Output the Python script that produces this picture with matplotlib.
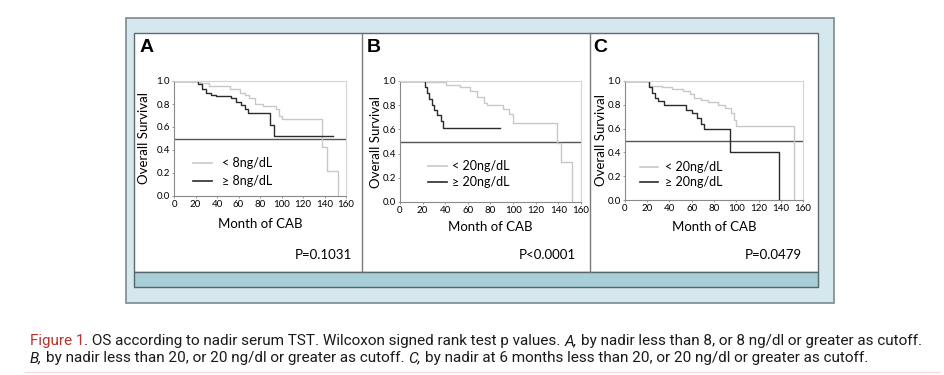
import matplotlib
matplotlib.use('Agg')
import matplotlib.pyplot as plt
from matplotlib.patches import Rectangle

W, H = 945, 375

# ---- data ----
panel_labels = ['A', 'B', 'C']
legend_low = ['< 8ng/dL', '< 20ng/dL', '< 20ng/dL']
legend_high = ['\u2265 8ng/dL', '\u2265 20ng/dL', '\u2265 20ng/dL']
p_values = ['P=0.1031', 'P<0.0001', 'P=0.0479']
x_ticks = [0, 20, 40, 60, 80, 100, 120, 140, 160]
y_ticks = [0.0, 0.2, 0.4, 0.6, 0.8, 1.0]

a_low_t = [0, 24, 33, 52, 61, 66, 70, 75, 83, 95, 98, 100, 138, 142, 153]
a_low_s = [1.0, 0.98, 0.96, 0.93, 0.90, 0.88, 0.85, 0.80, 0.78, 0.76, 0.70, 0.67, 0.43, 0.22, 0.0]
a_high_t = [0, 22, 26, 30, 34, 39, 53, 58, 62, 66, 69, 89, 93, 148]
a_high_s = [1.0, 0.97, 0.93, 0.90, 0.88, 0.87, 0.85, 0.82, 0.79, 0.76, 0.72, 0.62, 0.52, 0.52]

b_low_t = [0, 24, 41, 53, 62, 68, 74, 77, 91, 96, 100, 139, 142, 152]
b_low_s = [1.0, 0.99, 0.97, 0.95, 0.92, 0.87, 0.82, 0.80, 0.77, 0.73, 0.65, 0.49, 0.33, 0.0]
b_high_t = [0, 22, 24, 26, 28, 30, 33, 36, 38, 88]
b_high_s = [1.0, 0.95, 0.90, 0.85, 0.80, 0.76, 0.72, 0.67, 0.61, 0.61]

c_low_t = [0, 22, 33, 42, 52, 58, 62, 68, 75, 84, 90, 95, 98, 100, 152]
c_low_s = [1.0, 0.96, 0.95, 0.93, 0.92, 0.89, 0.86, 0.84, 0.82, 0.80, 0.77, 0.73, 0.67, 0.62, 0.0]
c_high_t = [0, 22, 24, 27, 30, 35, 55, 60, 65, 68, 71, 94, 138]
c_high_s = [1.0, 0.95, 0.90, 0.86, 0.83, 0.80, 0.76, 0.73, 0.69, 0.64, 0.60, 0.40, 0.0]

curves = [(a_low_t, a_low_s, a_high_t, a_high_s),
          (b_low_t, b_low_s, b_high_t, b_high_s),
          (c_low_t, c_low_s, c_high_t, c_high_s)]

# ---- layout in pixels ----
# axes boxes: left, right, top, bottom
ax_box = [(174, 346, 81, 196), (400, 581, 81, 202), (625, 803, 81, 200)]
panel_left = [140, 367, 593]
ylabel_x = [144, 376, 601]
legend_xy = [(193, 212, 222, 163, 181), (428, 447, 452, 166, 182), (640, 658, 665, 167, 182)]
p_right = [352, 576, 802]

LIGHT = '#c8c8c8'
DARK = '#2b2b2b'
FONT = ['Lato', 'DejaVu Sans']

fig = plt.figure(figsize=(W / 100, H / 100), dpi=100)
bg = fig.add_axes([0, 0, 1, 1])
bg.set_xlim(0, W)
bg.set_ylim(H, 0)
bg.axis('off')

bg.add_patch(Rectangle((126, 18), 708, 285, fc='#d5e8ee', ec='#7d8a8f', lw=1.2))
bg.add_patch(Rectangle((134, 33), 684, 239, fc='white', ec='#5f6a6e', lw=1))
bg.add_patch(Rectangle((134, 272), 684, 15, fc='#a8ced7', ec='#56666b', lw=1))
for xd in [362, 590]:
    bg.plot([xd, xd], [33, 272], color='#7a7a7a', lw=1)

for i in range(3):
    l, r, t, b = ax_box[i]
    ax = fig.add_axes([l / W, 1 - b / H, (r - l) / W, (b - t) / H])
    lt, ls, ht, hs = curves[i]
    ax.axhline(0.5, color='#555555', lw=1)
    ax.plot(lt, ls, drawstyle='steps-post', color=LIGHT, lw=1)
    ax.plot(ht, hs, drawstyle='steps-post', color=DARK, lw=1)
    ax.set_xlim(0, 160)
    ax.set_ylim(0, 1.0)
    ax.set_xticks(x_ticks)
    ax.set_yticks(y_ticks)
    ax.set_yticklabels(['%.1f' % v for v in y_ticks])
    for lab in ax.get_xticklabels() + ax.get_yticklabels():
        lab.set_family(FONT)
        lab.set_fontsize(7)
    ax.tick_params(length=1.5, width=0.6, pad=1.5, color='#888888')
    for s in ['top', 'right']:
        ax.spines[s].set_color('#d4d4d4')
    for s in ['left', 'bottom']:
        ax.spines[s].set_color('#8a8a8a')
    ax.patch.set_alpha(0)

    # panel letter, axis labels, p value
    bg.text(panel_left[i], 47, panel_labels[i], fontsize=14, fontweight='bold',
            family='Liberation Sans', va='center', ha='left')
    bg.text(ylabel_x[i], (t + b) / 2, 'Overall Survival', rotation=90, fontsize=9.5,
            family=FONT, va='center', ha='center')
    bg.text((l + r) / 2, 224 if i == 0 else 227, 'Month of CAB', fontsize=9.5,
            family=FONT, va='center', ha='center')
    bg.text(p_right[i], 255, p_values[i], fontsize=9.5, family=FONT,
            va='center', ha='right')

    x0, x1, xt, y0, y1 = legend_xy[i]
    bg.plot([x0, x1], [y0, y0], color=LIGHT, lw=1.2)
    bg.plot([x0, x1], [y1, y1], color=DARK, lw=1.2)
    bg.text(xt, y0, legend_low[i], fontsize=9, family=FONT, va='center')
    bg.text(xt, y1, legend_high[i], fontsize=9, family=FONT, va='center')

# ---- caption with mixed styles ----
CAP_FONT = ['Roboto', 'DejaVu Sans']
CAP_SIZE = 11
renderer = fig.canvas.get_renderer()
space_w = 0.25 * CAP_SIZE * 100 / 72


def put_runs(x, y, runs):
    for txt, style, color in runs:
        if txt.startswith(' '):
            x += space_w
            txt = txt[1:]
        tt = bg.text(x, y, txt, fontsize=CAP_SIZE, family=CAP_FONT, style=style,
                     color=color, va='center', ha='left')
        x += tt.get_window_extent(renderer).width
        if txt.endswith(' '):
            x += space_w


line1 = [('Figure 1', 'normal', '#b8312c'),
         ('. OS according to nadir serum TST. Wilcoxon signed rank test p values.', 'normal', '#1a1a1a'),
         (' A,', 'italic', '#1a1a1a'),
         (' by nadir less than 8, or 8 ng/dl or greater as cutoff.', 'normal', '#1a1a1a')]
line2 = [('B,', 'italic', '#1a1a1a'),
         (' by nadir less than 20, or 20 ng/dl or greater as cutoff.', 'normal', '#1a1a1a'),
         (' C,', 'italic', '#1a1a1a'),
         (' by nadir at 6 months less than 20, or 20 ng/dl or greater as cutoff.', 'normal', '#1a1a1a')]
put_runs(30, 341, line1)
put_runs(30, 358, line2)
bg.plot([25, 940], [372, 372], color='#f4dcdc', lw=1)

fig.savefig('out.png', dpi=100)
